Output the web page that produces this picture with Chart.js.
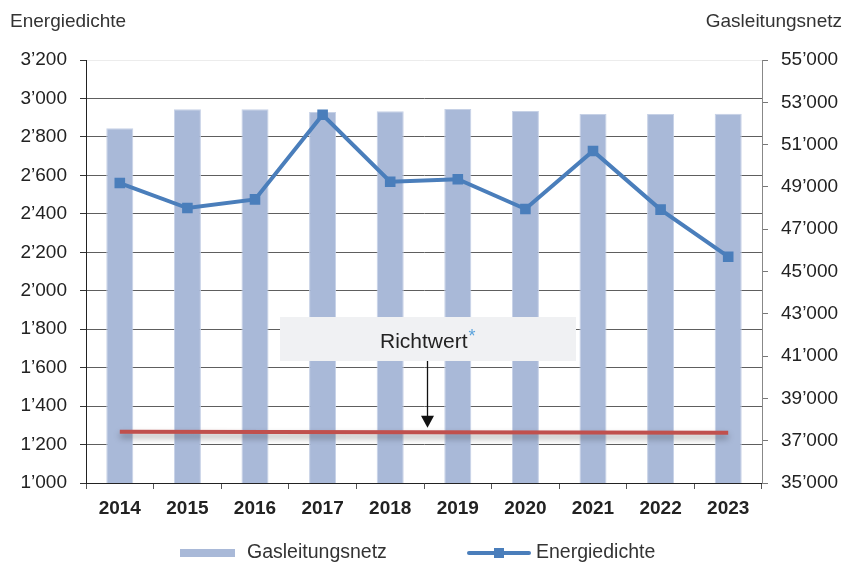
<!DOCTYPE html>
<html>
<head>
<meta charset="utf-8">
<script src="https://cdn.jsdelivr.net/npm/chart.js@4/dist/chart.umd.min.js"></script>
<style>
  html, body { margin: 0; padding: 0; background: #ffffff; }
  #wrap { width: 846px; height: 563px; }
</style>
</head>
<body>
<div id="wrap"><canvas id="c" width="846" height="563"></canvas></div>
<script>
const years = ['2014', '2015', '2016', '2017', '2018', '2019', '2020', '2021', '2022', '2023'];
const gasleitungsnetz = [51770, 52670, 52670, 52540, 52580, 52680, 52590, 52450, 52450, 52460];
const energiedichte = [2560, 2430, 2475, 2915, 2567, 2580, 2425, 2727, 2422, 2177];
const richtwert = [1266, null, null, null, null, null, null, null, null, 1261];
const leftTitle = 'Energiedichte';
const rightTitle = 'Gasleitungsnetz';
const annotationText = 'Richtwert';

const FONT = "'Liberation Sans', Arial, sans-serif";
const BAR = '#a9b9d8';
const LINE = '#4a7ebb';
const RED = '#c0504d';

const fmt = v => String(v).replace(/\B(?=(\d{3})+(?!\d))/g, '\u2019');

const deco = {
  id: 'deco',
  beforeDatasetDraw(chart, args) {
    if (args.index === 1) {
      const ctx = chart.ctx;
      ctx.save();
      ctx.shadowColor = 'rgba(0,0,0,0.35)';
      ctx.shadowBlur = 6;
      ctx.shadowOffsetY = 4;
    }
  },
  afterDatasetDraw(chart, args) {
    if (args.index === 1) chart.ctx.restore();
  },
  afterDraw(chart) {
    const ctx = chart.ctx;
    const area = chart.chartArea;
    const yL = chart.scales.yL;
    ctx.save();
    // axis titles
    ctx.fillStyle = '#333';
    ctx.font = '19px ' + FONT;
    ctx.textBaseline = 'alphabetic';
    ctx.textAlign = 'left';
    ctx.fillText(leftTitle, 10, 27);
    ctx.textAlign = 'right';
    ctx.fillText(rightTitle, 842, 27);

    // annotation box
    const boxX = area.left + 194, boxW = 296, boxY = 317, boxH = 44;
    ctx.fillStyle = '#f0f1f3';
    ctx.fillRect(boxX, boxY, boxW, boxH);
    ctx.fillStyle = '#222';
    ctx.font = '21px ' + FONT;
    ctx.textAlign = 'left';
    ctx.fillText(annotationText, 380, 348);
    const tw = ctx.measureText(annotationText).width;
    ctx.fillStyle = '#5ba3dc';
    ctx.font = '18px ' + FONT;
    ctx.fillText('*', 380 + tw + 1, 342);

    // arrow
    const ax = 427.5;
    const tipY = yL.getPixelForValue(richtwert[0]) - 4;
    ctx.strokeStyle = '#111';
    ctx.lineWidth = 1.3;
    ctx.beginPath();
    ctx.moveTo(ax, boxY + boxH);
    ctx.lineTo(ax, tipY - 10);
    ctx.stroke();
    ctx.fillStyle = '#111';
    ctx.beginPath();
    ctx.moveTo(ax - 6.5, tipY - 12);
    ctx.lineTo(ax + 6.5, tipY - 12);
    ctx.lineTo(ax, tipY);
    ctx.closePath();
    ctx.fill();

    // legend
    ctx.fillStyle = BAR;
    ctx.fillRect(180, 549, 55, 8);
    ctx.fillStyle = '#333';
    ctx.font = '19.5px ' + FONT;
    ctx.textAlign = 'left';
    ctx.fillText(rightTitle, 247, 558);
    ctx.strokeStyle = LINE;
    ctx.lineWidth = 4;
    ctx.lineCap = 'round';
    ctx.beginPath();
    ctx.moveTo(469, 553);
    ctx.lineTo(529, 553);
    ctx.stroke();
    ctx.fillStyle = LINE;
    ctx.fillRect(494, 548, 10, 10);
    ctx.fillStyle = '#333';
    ctx.fillText(leftTitle, 536, 558);
    ctx.restore();
  }
};

new Chart(document.getElementById('c'), {
  type: 'bar',
  data: {
    labels: years,
    datasets: [
      {
        type: 'line',
        label: 'Energiedichte',
        data: energiedichte,
        yAxisID: 'yL',
        borderColor: LINE,
        backgroundColor: LINE,
        borderWidth: 4,
        pointStyle: 'rect',
        pointRadius: 7.5,
        pointBorderWidth: 0,
        pointBackgroundColor: LINE,
        tension: 0,
        order: 0
      },
      {
        type: 'line',
        label: 'Richtwert',
        data: richtwert,
        yAxisID: 'yL',
        borderColor: RED,
        borderWidth: 4,
        pointRadius: 0,
        spanGaps: true,
        order: 1
      },
      {
        type: 'bar',
        label: 'Gasleitungsnetz',
        data: gasleitungsnetz,
        yAxisID: 'yR',
        backgroundColor: BAR,
        borderColor: '#c6d1e6',
        borderWidth: 1,
        barPercentage: 0.4,
        categoryPercentage: 1,
        order: 2
      }
    ]
  },
  options: {
    responsive: false,
    animation: false,
    layout: { padding: { top: 60, left: 0, right: 0, bottom: 0 } },
    plugins: { legend: { display: false }, tooltip: { enabled: false } },
    scales: {
      x: {
        grid: { offset: true, drawOnChartArea: false, tickLength: 6, color: '#555', tickColor: '#555' },
        border: { color: '#222' },
        ticks: { font: { family: FONT, size: 19, weight: 'bold' }, color: '#222', padding: 8, maxRotation: 0 },
        afterFit(s) { s.height = 80; }
      },
      yL: {
        position: 'left',
        min: 1000,
        max: 3200,
        ticks: { stepSize: 200, callback: v => fmt(v), font: { family: FONT, size: 19 }, color: '#222', padding: 13 },
        grid: {
          color: c => (c.tick && c.tick.value === 3200) ? '#ececec' : '#5e5e5e',
          tickColor: '#333',
          tickLength: 6,
          lineWidth: 1
        },
        border: { color: '#222' },
        afterFit(s) { s.width = 86; }
      },
      yR: {
        position: 'right',
        min: 35000,
        max: 55000,
        ticks: { stepSize: 2000, callback: v => fmt(v), font: { family: FONT, size: 19 }, color: '#222', padding: 13 },
        grid: { drawOnChartArea: false, tickLength: 6, tickColor: '#777' },
        border: { color: '#888' },
        afterFit(s) { s.width = 84; }
      }
    }
  },
  plugins: [deco]
});
</script>
</body>
</html>
